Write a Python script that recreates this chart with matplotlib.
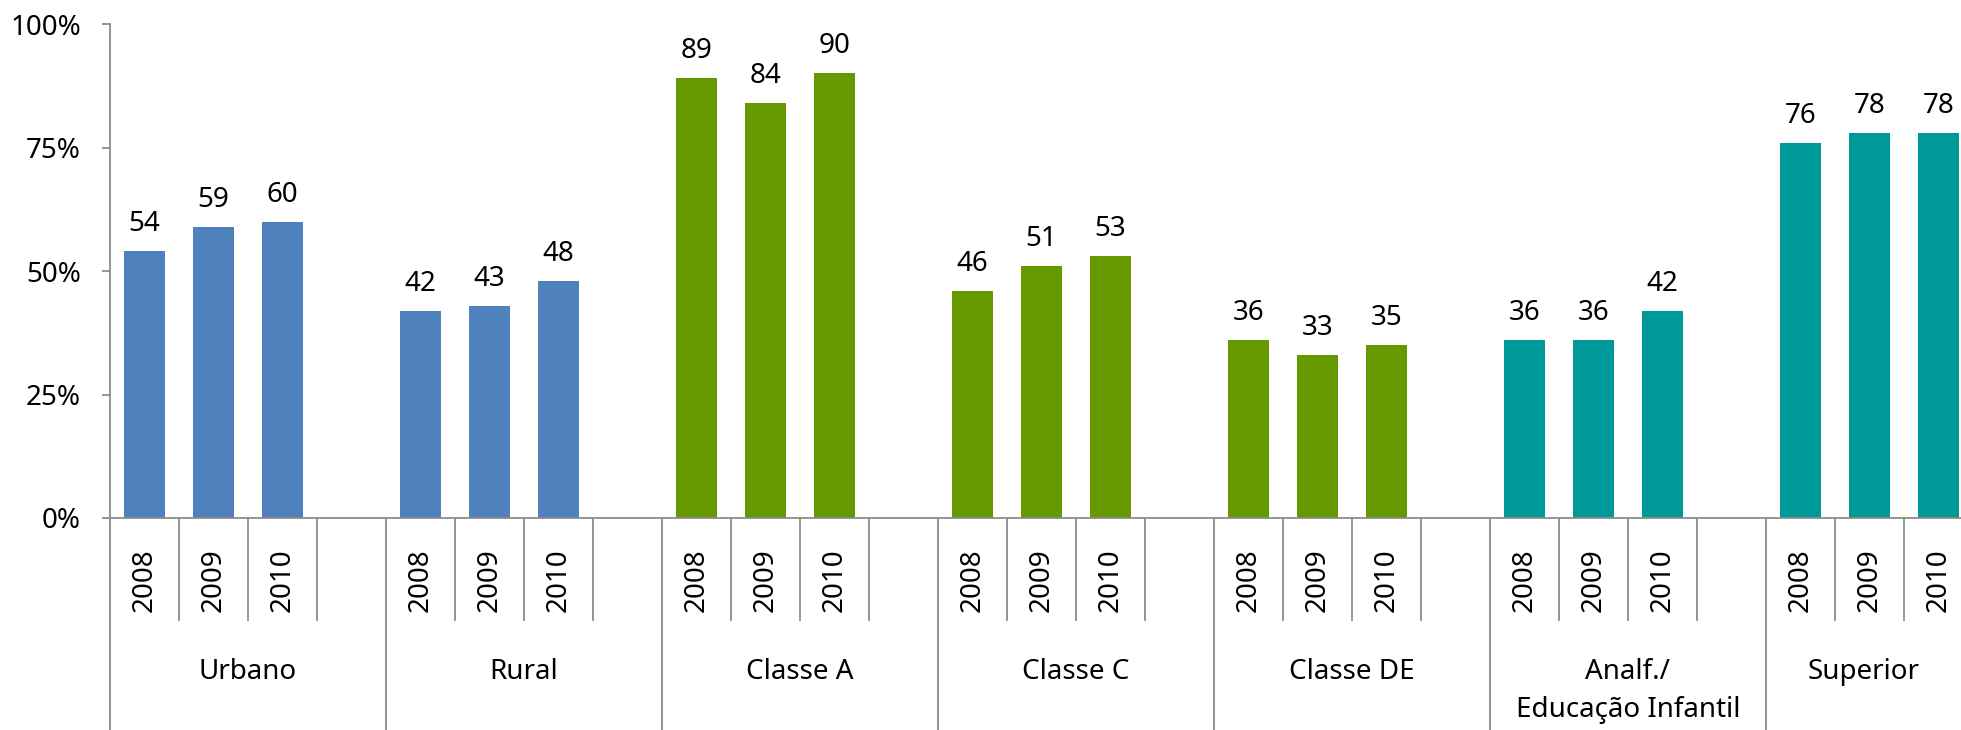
import matplotlib.pyplot as plt
import matplotlib.transforms as mtransforms

plt.rcParams['font.family'] = ['Noto Sans', 'DejaVu Sans']

groups = ['Urbano', 'Rural', 'Classe A', 'Classe C', 'Classe DE',
          'Analf./\nEducação Infantil', 'Superior']
years = ['2008', '2009', '2010']
values = [
    [54, 59, 60],
    [42, 43, 48],
    [89, 84, 90],
    [46, 51, 53],
    [36, 33, 35],
    [36, 36, 42],
    [76, 78, 78],
]
group_colors = ['#4F81BD', '#4F81BD', '#669900', '#669900', '#669900',
                '#009999', '#009999']
yticks = [0, 25, 50, 75, 100]

line_col = '#8C8C8C'
fs = 20

fig = plt.figure(figsize=(19.61, 7.30), dpi=100)
ax = fig.add_axes([110 / 1961, 212 / 730, 1 - 110 / 1961, 494 / 730])

slots = 4  # 3 years + one empty slot per group
xmax = 26.33
for g, vals in enumerate(values):
    xs = [g * slots + i for i in range(len(vals))]
    ax.bar(xs, vals, width=0.6, color=group_colors[g])
    for x, v in zip(xs, vals):
        ax.annotate(str(v), (x, v), xytext=(0, 14.4), textcoords='offset points',
                    ha='center', va='baseline', fontsize=fs)

ax.set_xlim(-0.5, xmax)
ax.set_ylim(0, 100)
ax.set_yticks(yticks)
ax.set_yticklabels([f'{t}%' for t in yticks], fontsize=fs)
ax.tick_params(axis='y', length=6, width=1.3, color=line_col, pad=15)
ax.set_xticks([])
for s in ['top', 'right']:
    ax.spines[s].set_visible(False)
for s in ['left', 'bottom']:
    ax.spines[s].set_color(line_col)
    ax.spines[s].set_linewidth(1.3)

trans = mtransforms.blended_transform_factory(ax.transData, ax.transAxes)
n_groups = len(groups)
for k in range(n_groups * slots + 1):
    xb = k - 0.5
    if xb > xmax:
        break
    ybot = -0.45 if k % slots == 0 else -0.2065
    ax.plot([xb, xb], [0, ybot], color=line_col, lw=1.3, transform=trans,
            clip_on=False)

for g in range(n_groups):
    for i, yr in enumerate(years):
        x = g * slots + i
        if x > xmax:
            continue
        ax.text(x, -0.1255, yr, rotation=90, ha='center', va='center',
                fontsize=fs, transform=trans, clip_on=False)
    start = g * slots - 0.5
    end = min(start + slots, xmax)
    ax.text((start + end) / 2, -0.284, groups[g], ha='center', va='top',
            fontsize=fs, transform=trans, linespacing=1.45)

fig.savefig('out.png', dpi=100)
